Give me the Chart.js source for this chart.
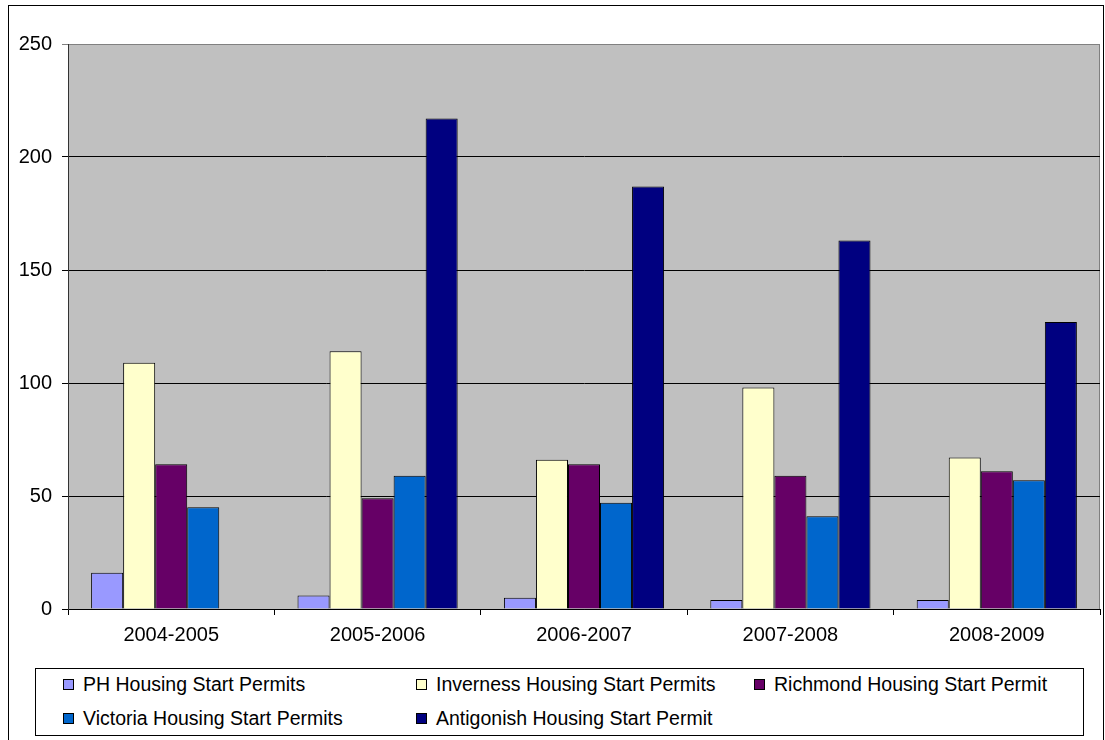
<!DOCTYPE html>
<html>
<head>
<meta charset="utf-8">
<script src="https://cdn.jsdelivr.net/npm/chart.js@4.4.1/dist/chart.umd.min.js"></script>
<style>
  html, body { margin:0; padding:0; background:#fff; overflow:hidden; }
  body { width:1105px; height:740px; position:relative; font-family:"Liberation Sans", Arial, sans-serif; }
  #frame { position:absolute; left:8px; top:5px; width:1096px; height:760px; border:1px solid #000; box-sizing:border-box; }
  #chart { position:absolute; left:0; top:0; }
  #legend { position:absolute; left:35px; top:668px; width:1049px; height:68px; border:1px solid #000; box-sizing:border-box; }
  .item { position:absolute; height:22px; line-height:22px; font-size:19.5px; color:#000; white-space:nowrap; }
  .sw { display:inline-block; width:9px; height:9px; border:1px solid #000; margin-right:9px; vertical-align:1px; }
</style>
</head>
<body>
<div id="frame"></div>
<canvas id="chart" width="1105" height="660"></canvas>
<div id="legend"></div>
<script>
const labels = ["2004-2005", "2005-2006", "2006-2007", "2007-2008", "2008-2009"];

const phPermits = [16, 6, 5, 4, 4];
const invernessPermits = [109, 114, 66, 98, 67];
const richmondPermits = [64, 49, 64, 59, 61];
const victoriaPermits = [45, 59, 47, 41, 57];
const antigonishPermits = [null, 217, 187, 163, 127];

const seriesNames = [
  "PH Housing Start Permits",
  "Inverness Housing Start Permits",
  "Richmond Housing Start Permit",
  "Victoria Housing Start Permits",
  "Antigonish Housing Start Permit"
];
const seriesColors = ["#9999FF", "#FFFFCC", "#660066", "#0066CC", "#000080"];
const seriesData = [phPermits, invernessPermits, richmondPermits, victoriaPermits, antigonishPermits];

const yTicks = [0, 50, 100, 150, 200, 250];

Chart.defaults.font.family = '"Liberation Sans", Arial, sans-serif';
Chart.defaults.font.size = 20;
Chart.defaults.color = "#000";

// grey plot area with a grey frame, like the old Excel look
const plotBack = {
  id: "plotBack",
  beforeDraw(chart) {
    const a = chart.chartArea;
    const c = chart.ctx;
    c.save();
    c.fillStyle = "#C0C0C0";
    c.fillRect(a.left, a.top, a.right - a.left, a.bottom - a.top);
    c.strokeStyle = "#808080";
    c.lineWidth = 1;
    c.strokeRect(a.left + 0.5, a.top + 0.5, a.right - a.left - 1, a.bottom - a.top);
    c.restore();
  }
};

const ctx = document.getElementById("chart");

const chart = new Chart(ctx, {
  type: "bar",
  data: {
    labels: labels,
    datasets: seriesNames.map((name, i) => ({
      label: name,
      data: seriesData[i],
      backgroundColor: seriesColors[i],
      borderColor: "#000",
      borderWidth: 1,
      categoryPercentage: 0.776,
      barPercentage: 1
    }))
  },
  options: {
    responsive: false,
    animation: false,
    layout: { padding: { top: 44, right: 5, left: 0, bottom: 0 } },
    plugins: {
      legend: { display: false },
      tooltip: { enabled: false }
    },
    scales: {
      x: {
        afterFit(scale) { scale.height = 51; },
        grid: {
          offset: true,
          drawOnChartArea: false,
          tickLength: 6,
          color: "#000"
        },
        border: { color: "#000" },
        ticks: { padding: 8, maxRotation: 0 }
      },
      y: {
        min: 0,
        max: 250,
        afterFit(scale) { scale.width = 68; },
        afterBuildTicks(scale) { scale.ticks = yTicks.map(v => ({ value: v })); },
        grid: {
          color: c => (c.tick && c.tick.value === 250 ? "#808080" : "#000"),
          tickLength: 6
        },
        border: { color: "#333" },
        ticks: { padding: 10 }
      }
    }
  },
  plugins: [plotBack]
});

// legend laid out in a grid like the reference
const legend = document.getElementById("legend");
const cols = [27, 380, 718];
const rows = [4, 38];
chart.data.datasets.forEach((ds, i) => {
  const el = document.createElement("div");
  el.className = "item";
  el.style.left = cols[i % 3] + "px";
  el.style.top = rows[Math.floor(i / 3)] + "px";
  const sw = document.createElement("span");
  sw.className = "sw";
  sw.style.background = ds.backgroundColor;
  el.appendChild(sw);
  el.appendChild(document.createTextNode(ds.label));
  legend.appendChild(el);
});
</script>
</body>
</html>
